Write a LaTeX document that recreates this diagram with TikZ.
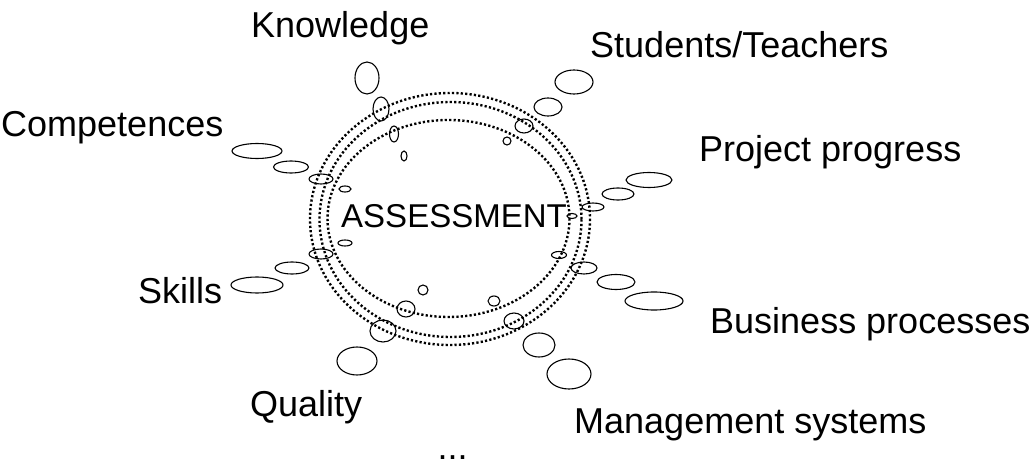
\documentclass[tikz,border=0pt]{standalone}
\usepackage{fontspec}
\setmainfont{Liberation Sans}
\usepackage{tikz}
\usetikzlibrary{shapes.geometric}
\tikzstyle{bubble} = [ellipse, draw=black, line width=1.1pt, inner sep=0pt]
\tikzstyle{ring} = [draw=black, line width=2.4pt, dash pattern=on 2.2pt off 2.2pt]
\tikzstyle{topic} = [anchor=base west, inner sep=0pt, font=\fontsize{36}{40}\selectfont]

\begin{document}
\begin{tikzpicture}[x=1pt, y=-1pt]
		\useasboundingbox (0,0) rectangle (1034,465);
		% dotted rings
		\draw [ring] (450,219) ellipse [x radius=140, y radius=126];
		\draw [ring] (450.5,219.5) ellipse [x radius=131, y radius=117.5];
		\draw [ring] (448.5,218.5) ellipse [x radius=121, y radius=98.5];
		\node (assess) [anchor=base, inner sep=0pt, font=\fontsize{33}{36}\selectfont] at (454,228) {ASSESSMENT};
		% bubbles, one ray per topic
		\foreach \x/\y/\w/\h [count=\i] in {367/78/24/32, 381/109/16/24, 394/134/9/16, 404/156/6/10}
			\node (know\i) [bubble, minimum width=\w pt, minimum height=\h pt] at (\x,\y) {};
		\foreach \x/\y/\w/\h [count=\i] in {574/82/38/24, 548/107/28/18, 524/126/18/14, 507/141/8/8}
			\node (stud\i) [bubble, minimum width=\w pt, minimum height=\h pt] at (\x,\y) {};
		\foreach \x/\y/\w/\h [count=\i] in {649/180/46/15, 618/194/32/12, 593/207/22/8, 572/216/10/5}
			\node (proj\i) [bubble, minimum width=\w pt, minimum height=\h pt] at (\x,\y) {};
		\foreach \x/\y/\w/\h [count=\i] in {654/301/58/18, 616/282/38/15, 584/268/26/12, 559/255/15/7}
			\node (busi\i) [bubble, minimum width=\w pt, minimum height=\h pt] at (\x,\y) {};
		\foreach \x/\y/\w/\h [count=\i] in {569/374/44/30, 539/345/32/24, 514/321/20/16, 494/301/12/10}
			\node (mgmt\i) [bubble, minimum width=\w pt, minimum height=\h pt] at (\x,\y) {};
		\foreach \x/\y/\w/\h [count=\i] in {357/361/40/28, 383/331/26/22, 406/309/18/16, 423/290/10/10}
			\node (qual\i) [bubble, minimum width=\w pt, minimum height=\h pt] at (\x,\y) {};
		\foreach \x/\y/\w/\h [count=\i] in {257/285/52/16, 292/268/34/12, 321/254/24/10, 345/243/14/6}
			\node (skil\i) [bubble, minimum width=\w pt, minimum height=\h pt] at (\x,\y) {};
		\foreach \x/\y/\w/\h [count=\i] in {257/151/50/15, 291/167/35/12, 321/179/24/10, 345/189/12/6}
			\node (comp\i) [bubble, minimum width=\w pt, minimum height=\h pt] at (\x,\y) {};
		% topics
		\node (knowledge) [topic] at (251,38) {Knowledge};
		\node (students) [topic] at (590,58) {Students/Teachers};
		\node (project) [topic] at (699,162) {Project progress};
		\node (business) [topic] at (710,333) {Business processes};
		\node (management) [topic] at (574,433) {Management systems};
		\node (quality) [topic] at (250,416) {Quality};
		\node (skills) [topic] at (138,304) {Skills};
		\node (competences) [topic] at (1,137) {Competences};
		\node (more) [topic, text depth=0pt] at (437.5,459) {...};
	\end{tikzpicture}
\end{document}
